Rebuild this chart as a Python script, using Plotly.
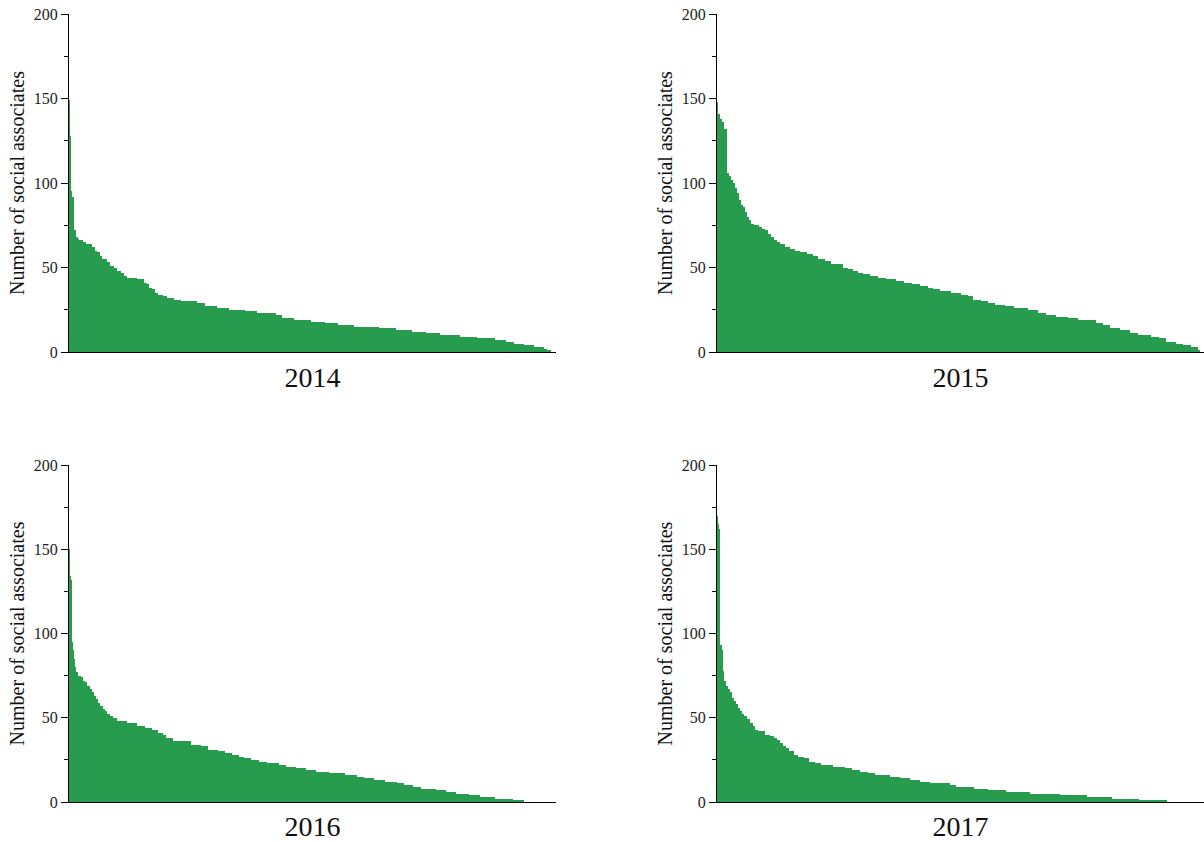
import numpy as np
import plotly.graph_objects as go

# ---------------- data ----------------
years = ["2014", "2015", "2016", "2017"]
y_label = "Number of social associates"
y_tickvals = [0, 50, 100, 150, 200]
y_minor_tickvals = [25, 75, 125, 175]

# Individuals sorted by number of social associates, given as runs:
# levels_* = value of the run, counts_* = number of individuals in that run
levels_2014 = [149, 128, 95, 92, 72, 68, 67, 66, 65, 64, 62, 60, 59, 57, 55, 53, 51, 50, 48, 47, 45,
               44, 43, 41, 40, 38, 37, 35, 34, 33, 32, 31,
               30, 29, 27, 26, 25, 24, 23, 22, 20, 19,
               18, 17, 16, 15, 14, 13, 12, 11, 10, 9, 8, 7, 6, 5, 4, 3, 2, 1]
counts_2014 = [1, 1, 1, 2, 2, 2, 1, 4, 3, 6, 3, 2, 3, 2, 5, 3, 4, 3, 4, 3, 3,
               10, 7, 3, 2, 3, 3, 3, 5, 4, 7, 7,
               16, 8, 12, 12, 16, 12, 19, 6, 12, 17,
               14, 13, 16, 25, 17, 16, 14, 14, 20, 17, 18, 11, 8, 10, 10, 10, 3, 4]

levels_2015 = [148, 141, 138, 136, 132,
               106, 104, 102, 100, 97, 94, 90, 87, 86, 83,
               80, 78,
               76, 75, 74, 73, 72, 70,
               68, 66, 65, 64, 62, 61, 60,
               59, 58, 57, 55, 54,
               52,
               50, 49, 48, 47,
               46, 45, 44, 43, 42, 41, 40, 39, 38, 37,
               36, 35,
               34, 33, 31, 30, 29, 28, 27, 26, 25, 23, 22, 21, 20, 19, 17, 16, 14, 13, 11, 10, 9, 8, 6, 5, 4, 3, 1]
counts_2015 = [1, 2, 2, 2, 3,
               2, 2, 2, 2, 2, 2, 2, 2, 2, 2,
               2, 2,
               3, 5, 3, 3, 3, 3,
               3, 3, 3, 5, 5, 5, 5,
               7, 6, 5, 7, 6,
               12,
               5, 5, 5, 5,
               7, 8, 8, 10, 8, 8, 8, 8, 5, 7,
               11, 10,
               7, 5, 8, 7, 7, 10, 9, 14, 10, 8, 10, 12, 10, 18, 7, 7, 10, 10, 8, 13, 8, 7, 10, 7, 8, 7, 2]

levels_2016 = [150, 134, 132, 95, 90, 85, 80, 77, 75, 74, 72, 71, 69, 67, 65, 63, 61, 59, 57, 55, 54, 52, 51,
               50, 48, 47, 45, 44, 43, 41, 40, 38, 36, 34, 33, 31, 30, 29, 28, 27, 26, 25, 24, 23, 22, 21, 20,
               19, 18, 17, 16, 15, 14, 13, 12, 11, 10, 9, 8, 7, 6, 5, 4, 3, 2, 1]
counts_2016 = [1, 1, 1, 1, 1, 1, 1, 2, 3, 2, 2, 2, 3, 2, 2, 2, 2, 2, 3, 2, 2, 3, 3,
               4, 10, 10, 8, 7, 6, 5, 3, 7, 18, 10, 7, 10, 7, 7, 7, 5, 7, 8, 8, 12, 7, 10, 10,
               10, 13, 16, 12, 7, 10, 11, 12, 7, 9, 8, 15, 10, 10, 13, 11, 15, 18, 11]

levels_2017 = [170, 165, 162, 93, 90, 78, 72, 69, 67, 65, 62, 60, 58, 56, 54, 52, 51, 49, 47, 45,
               43, 42, 40, 39, 38, 37, 35, 33, 32, 30, 28, 27, 26, 24, 23, 22, 21, 20, 19, 18, 17, 16, 15, 14, 13, 12, 11,
               10, 9, 8, 7, 6, 5, 4, 3, 2, 1]
counts_2017 = [1, 1, 1, 2, 1, 1, 2, 2, 2, 2, 2, 2, 2, 2, 2, 2, 3, 3, 3, 2,
               3, 7, 5, 4, 3, 3, 3, 3, 3, 5, 4, 6, 5, 6, 6, 12, 12, 7, 8, 8, 7, 15, 10, 10, 10, 10, 20,
               6, 18, 14, 18, 24, 30, 27, 25, 27, 28]

series = {
    "2014": (levels_2014, counts_2014),
    "2015": (levels_2015, counts_2015),
    "2016": (levels_2016, counts_2016),
    "2017": (levels_2017, counts_2017),
}

# ---------------- styling / layout ----------------
W, H = 1204, 842
green = "#279c4f"
n_slots = 487  # shared x extent (individual slots) for all panels
font_family = "Liberation Serif, Times New Roman, serif"

x_domains = [[69 / W, 556 / W], [717 / W, 1.0], [69 / W, 556 / W], [717 / W, 1.0]]
y_domains = [[1 - 352 / H, 1 - 14 / H], [1 - 352 / H, 1 - 14 / H],
             [1 - 802 / H, 1 - 465 / H], [1 - 802 / H, 1 - 465 / H]]

fig = go.Figure()
layout = dict(
    width=W, height=H,
    margin=dict(l=0, r=0, t=0, b=0, autoexpand=False),
    paper_bgcolor="white", plot_bgcolor="white",
    showlegend=False, bargap=0,
    font=dict(family=font_family, color="#111"),
)

for i, year in enumerate(years):
    k = "" if i == 0 else str(i + 1)
    levels, counts = series[year]
    vals = np.repeat(np.array(levels), np.array(counts))
    fig.add_trace(go.Bar(
        x=np.arange(len(vals)), y=vals, width=1,
        marker=dict(color=green, line=dict(width=0)),
        xaxis="x" + k, yaxis="y" + k, hoverinfo="skip",
    ))
    layout["xaxis" + k] = dict(
        domain=x_domains[i], anchor="y" + k, automargin=False,
        range=[-0.5, n_slots - 0.5],
        showline=True, linecolor="black", linewidth=1,
        ticks="", showticklabels=False, showgrid=False, zeroline=False,
        title=dict(text=year, font=dict(size=28, family=font_family, color="#111"), standoff=15),
    )
    layout["yaxis" + k] = dict(
        domain=y_domains[i], anchor="x" + k, automargin=False,
        range=[0, 200], tickvals=y_tickvals, ticklabeloverflow="allow",
        ticks="outside", ticklen=7, tickcolor="black", tickwidth=1,
        minor=dict(tickvals=y_minor_tickvals, ticks="outside", ticklen=4, tickcolor="black"),
        showline=True, linecolor="black", linewidth=1,
        showgrid=False, zeroline=False,
        tickfont=dict(size=16, family=font_family, color="#222"),
        title=dict(text=y_label, font=dict(size=20, family=font_family, color="#111"), standoff=3),
    )

fig.update_layout(**layout)
# remove the default 8px page margin so the figure fills the window exactly
fig.write_html(
    "out.html",
    config={"displayModeBar": False},
    post_script="document.body.style.margin='0';document.body.style.overflow='hidden';",
)
